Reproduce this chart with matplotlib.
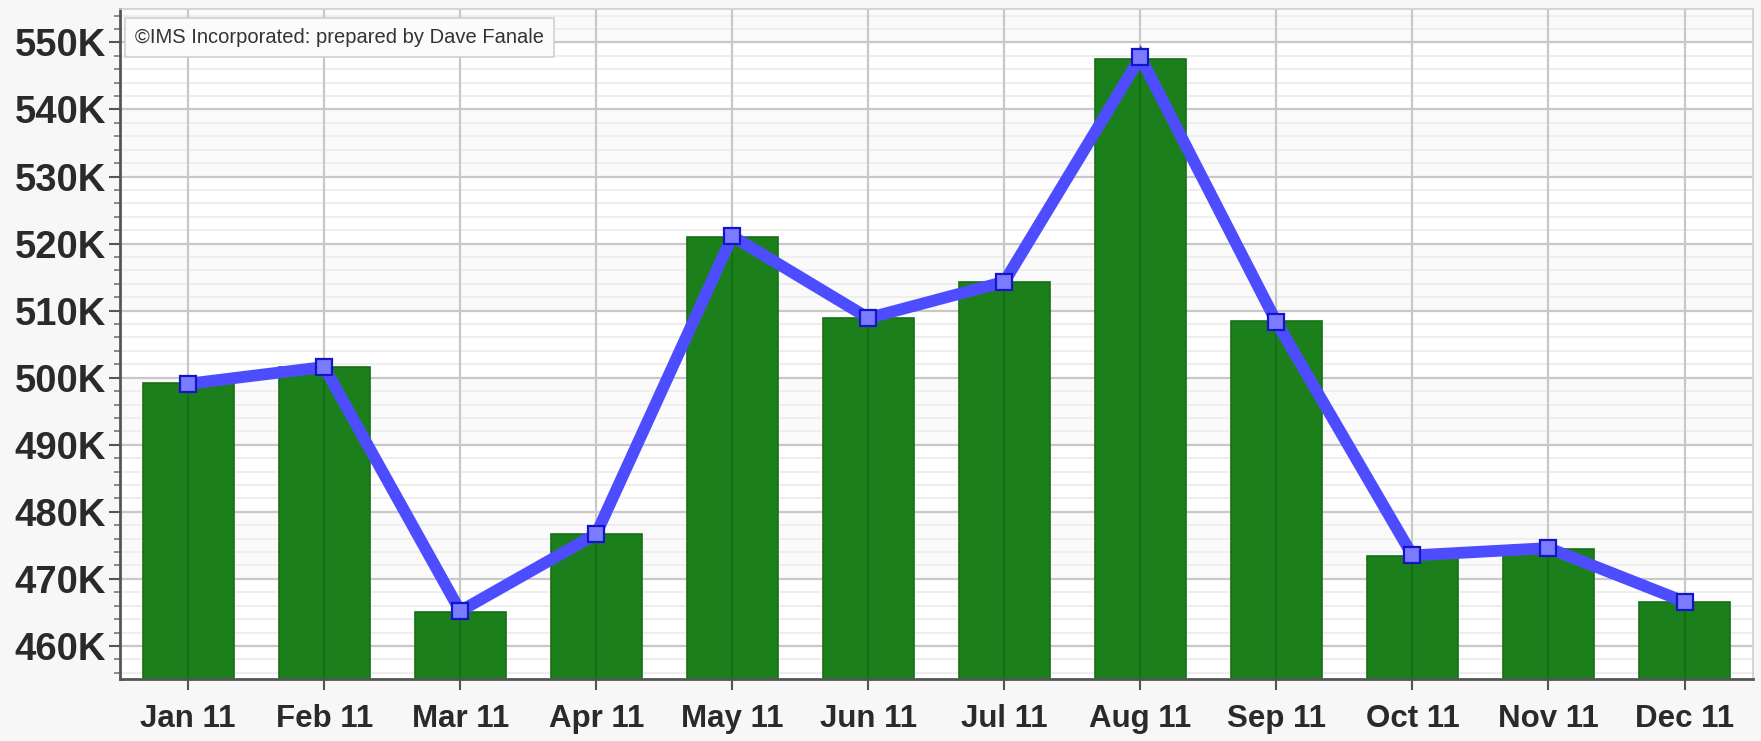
import numpy as np
import matplotlib.pyplot as plt
from matplotlib.ticker import MultipleLocator, FuncFormatter

plt.rcParams['font.family'] = ['Liberation Sans', 'DejaVu Sans']

months = ['Jan 11', 'Feb 11', 'Mar 11', 'Apr 11', 'May 11', 'Jun 11',
          'Jul 11', 'Aug 11', 'Sep 11', 'Oct 11', 'Nov 11', 'Dec 11']
bar_vals = [499.2, 501.6, 465.1, 476.7, 521.0, 508.9,
            514.2, 547.6, 508.5, 473.4, 474.5, 466.6]
line_vals = [499.1, 501.6, 465.2, 476.7, 521.1, 508.9,
             514.3, 547.8, 508.3, 473.5, 474.6, 466.6]

fig = plt.figure(figsize=(17.61, 7.41), dpi=100)
fig.patch.set_facecolor('#f7f7f7')
ax = fig.add_axes([0.0682, 0.083, 0.927, 0.905])
ax.set_facecolor('white')

x = np.arange(len(months))
ax.set_xlim(-0.5, len(months) - 0.5)
ax.set_ylim(455, 555)

# faint alternating bands between major lines
for i, lo in enumerate(range(460, 555, 10)):
    if i % 2 == 1:
        ax.axhspan(lo, lo + 10, color='#fafafa', zorder=0)

ax.yaxis.set_major_locator(MultipleLocator(10))
ax.yaxis.set_minor_locator(MultipleLocator(2))
ax.grid(which='major', axis='y', color='#c8c8c8', lw=1.6, zorder=1)
ax.grid(which='minor', axis='y', color='#ededed', lw=1.3, zorder=1)
ax.set_axisbelow(True)
for xi in x:
    ax.axvline(xi, color='#c8c8c8', lw=1.6, zorder=1.5)

ax.bar(x, [v - 455 for v in bar_vals], bottom=455, width=0.67,
       color='#1b801b', edgecolor='#176f17', lw=1.2, zorder=2)
# darker centre line visible through the bars
ax.vlines(x, 455, bar_vals, color='#157015', lw=1.5, zorder=3)

ax.plot(x, line_vals, color='#4d4dff', lw=8.5, solid_joinstyle='miter',
        marker='s', markersize=12, markerfacecolor='#7b7bff',
        markeredgecolor='#1414c8', markeredgewidth=1.6, zorder=4)

ax.set_xticks(x)
ax.set_xticklabels(months)
ax.yaxis.set_major_formatter(FuncFormatter(lambda v, p: f'{int(v)}K'))
ax.tick_params(axis='y', which='major', length=8, width=1.5, color='#555555',
               labelsize=27.5, labelcolor='#2a2a2a', pad=2)
ax.tick_params(axis='y', which='minor', length=4, width=1.2, color='#777777')
ax.tick_params(axis='x', length=8, width=1.5, color='#555555',
               labelsize=22.5, labelcolor='#2a2a2a', pad=10)
for lab in ax.get_xticklabels() + ax.get_yticklabels():
    lab.set_fontweight('bold')

for s in ['left', 'bottom']:
    ax.spines[s].set_color('#555555')
    ax.spines[s].set_linewidth(2)
for s in ['top', 'right']:
    ax.spines[s].set_color('#cfcfcf')
    ax.spines[s].set_linewidth(1.2)

ax.text(0.009, 0.972, '\u00a9IMS Incorporated: prepared by Dave Fanale',
        transform=ax.transAxes, fontsize=14.5, color='#333333',
        va='top', ha='left', zorder=6,
        bbox=dict(boxstyle='square,pad=0.5', fc='#fbfbfb', ec='#d0d0d0', lw=1.2))

fig.savefig('out.png', dpi=100, facecolor=fig.get_facecolor())
